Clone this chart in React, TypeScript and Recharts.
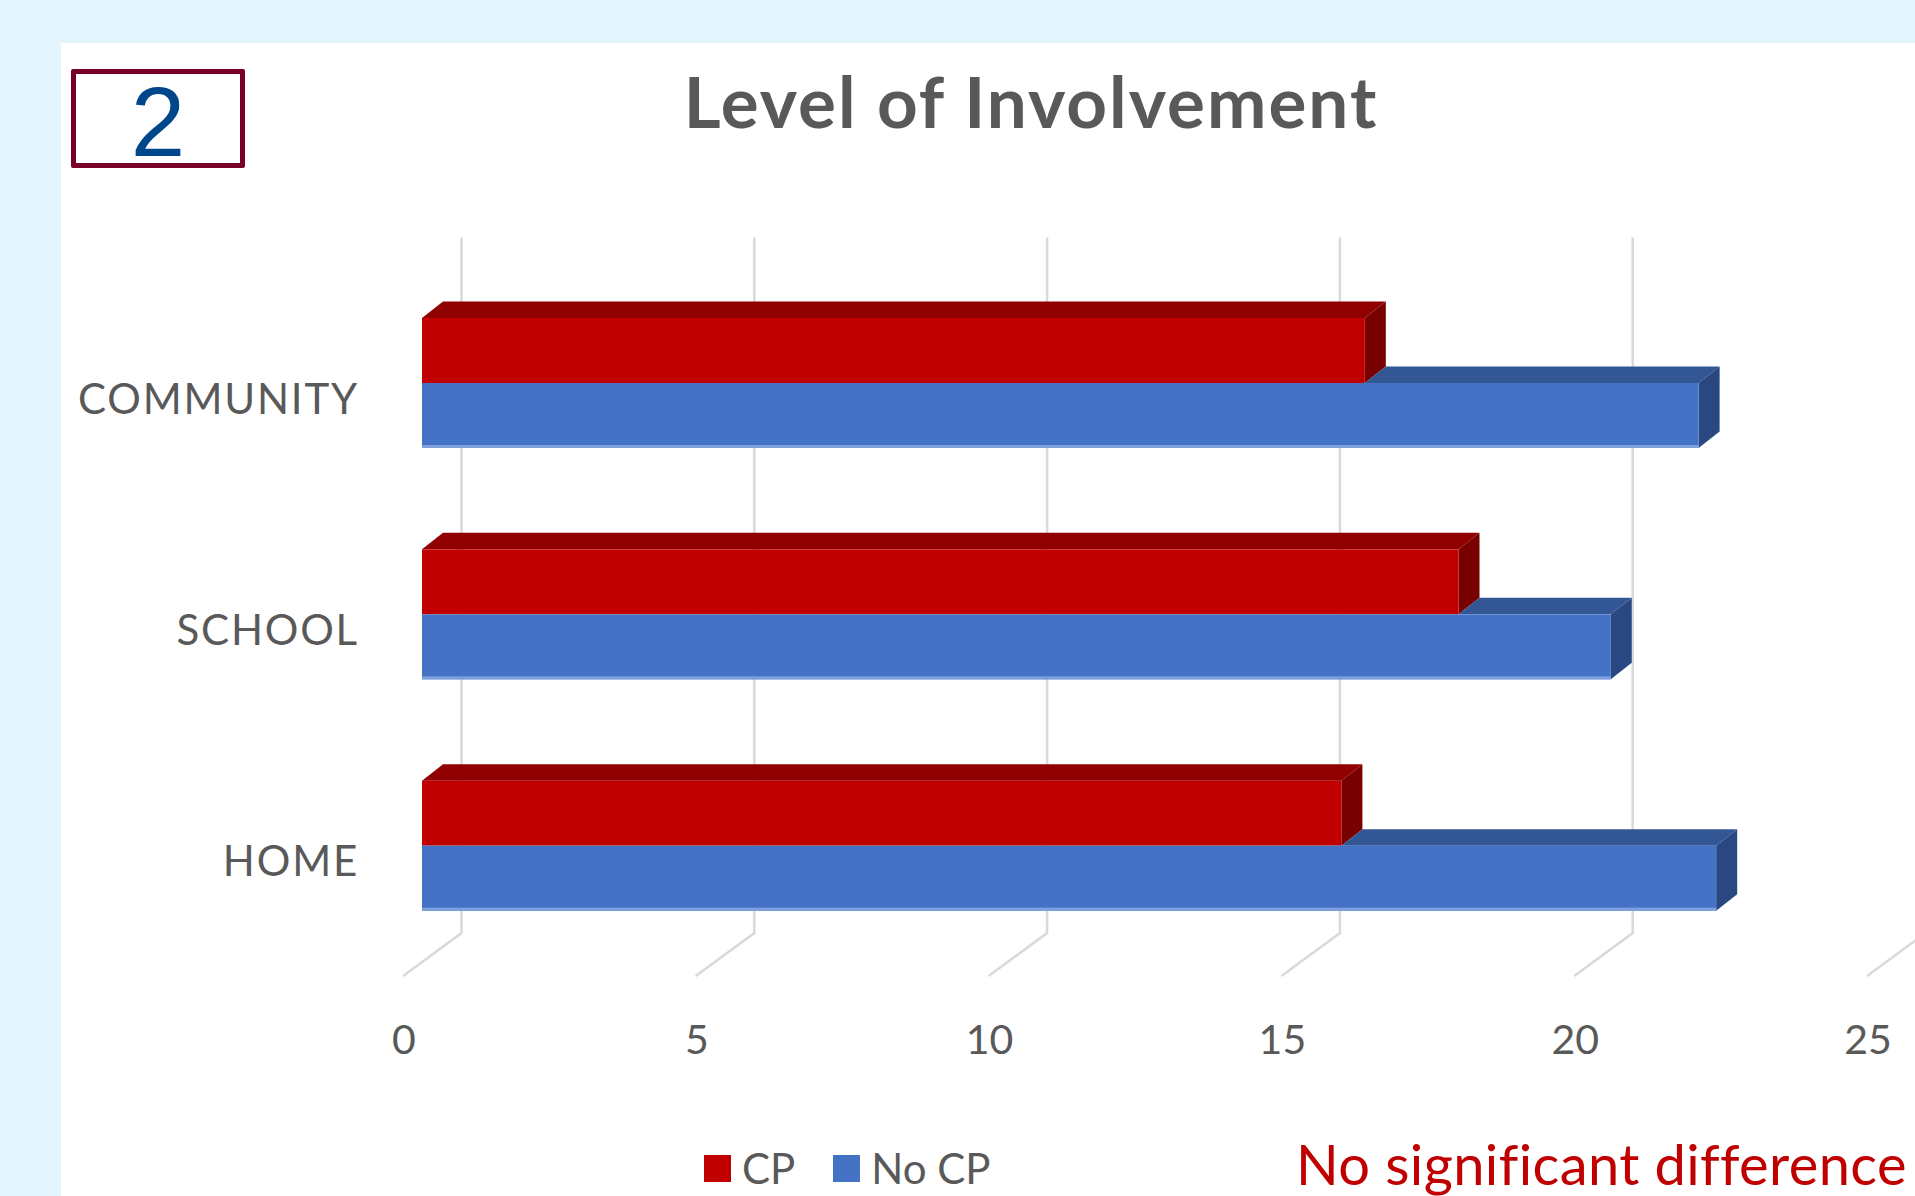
import React from 'react';
import { BarChart, Bar, XAxis, YAxis, CartesianGrid, Legend } from 'recharts';

const categories = ['COMMUNITY', 'SCHOOL', 'HOME'];
const cpValues = [16.1, 17.7, 15.7];
const noCpValues = [21.8, 20.3, 22.1];
const xTicks = [0, 5, 10, 15, 20, 25];

const data = categories.map((name, i) => ({ name, cp: cpValues[i], nocp: noCpValues[i] }));

const FONT = 'Lato, "Open Sans", sans-serif';
const GREY = '#595959';

// depth of one bar (3d look)
const DX = 21;
const DY = 16.5;

const CpShape = (props: any) => {
  const { x, y, width, height } = props;
  return (
    <g>
      <polygon points={`${x},${y} ${x + DX},${y - DY} ${x + width + DX},${y - DY} ${x + width},${y}`} fill="#900000" />
      <polygon
        points={`${x + width},${y} ${x + width + DX},${y - DY} ${x + width + DX},${y + height - DY} ${x + width},${y + height}`}
        fill="#780000"
      />
      <rect x={x} y={y} width={width} height={height} fill="#c00000" />
    </g>
  );
};

const NoCpShape = (props: any) => {
  const { x, y, width, height, payload } = props;
  // the CP bar sits on top and hides part of the top face
  const cpEnd = x + (payload.cp * width) / payload.nocp;
  return (
    <g>
      {cpEnd < x + width && (
        <polygon
          points={`${cpEnd},${y} ${cpEnd + DX},${y - DY} ${x + width + DX},${y - DY} ${x + width},${y}`}
          fill="#335694"
        />
      )}
      <polygon
        points={`${x + width},${y} ${x + width + DX},${y - DY} ${x + width + DX},${y + height - DY} ${x + width},${y + height}`}
        fill="#294882"
      />
      <rect x={x} y={y} width={width} height={height} fill="#4472c4" />
      <rect x={x} y={y + height - 3} width={width} height={3} fill="#7d9fdc" />
    </g>
  );
};

// back wall line + floor line for every tick
const gridLine = (props: any) => {
  const { x1, y1, y2 } = props;
  return (
    <path
      key={`g-${x1}`}
      d={`M${x1 + 39.5},${y1 - 29.5} L${x1 + 39.5},${y2 - 28} L${x1 - 19},${y2 + 15}`}
      stroke="#d9d9d9"
      strokeWidth={2.5}
      fill="none"
    />
  );
};

const CategoryTick = (props: any) => {
  const { x, y, payload } = props;
  return (
    <text x={x + 2} y={y + 31} textAnchor="end" fill={GREY} fontFamily={FONT} fontSize={42} letterSpacing={1.8}>
      {payload.value}
    </text>
  );
};

const ValueTick = (props: any) => {
  const { x, y, payload } = props;
  return (
    <text x={x - 18} y={y + 93} textAnchor="middle" fill={GREY} fontFamily={FONT} fontSize={41}>
      {payload.value}
    </text>
  );
};

const renderLegend = (props: any) => {
  const { payload } = props;
  return (
    <div style={{ display: 'flex', alignItems: 'center', fontFamily: FONT, fontSize: 42, lineHeight: '46px', color: GREY }}>
      {payload.map((entry: any, i: number) => (
        <div key={i} style={{ display: 'flex', alignItems: 'center', marginRight: 38 }}>
          <span style={{ display: 'inline-block', width: 27, height: 27, background: entry.color, marginRight: 11 }} />
          <span>{entry.value}</span>
        </div>
      ))}
    </div>
  );
};

export default function App() {
  return (
    <div style={{ position: 'fixed', left: 0, top: 0, width: 1915, height: 1196, overflow: 'hidden', background: '#e3f5fc' }}>
      <div style={{ position: 'absolute', left: 61, top: 43, right: 0, bottom: 0, background: '#ffffff' }} />
      <div
        style={{
          position: 'absolute',
          left: 71,
          top: 69,
          width: 174,
          height: 99,
          boxSizing: 'border-box',
          border: '5px solid #780026',
          borderRadius: 2,
        }}
      />
      <div
        style={{
          position: 'absolute',
          left: 71,
          width: 174,
          top: 66,
          textAlign: 'center',
          fontFamily: '"Liberation Sans", Arial, sans-serif',
          fontSize: 98,
          color: '#00468b',
        }}
      >
        2
      </div>
      <div
        style={{
          position: 'absolute',
          left: 631,
          width: 800,
          top: 58,
          textAlign: 'center',
          fontFamily: FONT,
          fontWeight: 700,
          fontSize: 71,
          letterSpacing: 2,
          color: GREY,
          whiteSpace: 'nowrap',
        }}
      >
        Level of Involvement
      </div>
      <div
        style={{
          position: 'absolute',
          left: 1296,
          top: 1136,
          fontFamily: FONT,
          fontSize: 56,
          lineHeight: '56px',
          letterSpacing: 0.4,
          color: '#c00000',
          whiteSpace: 'nowrap',
        }}
      >
        No significant difference
      </div>
      <div style={{ position: 'absolute', left: 0, top: 0 }}>
        <BarChart
          width={1915}
          height={1196}
          data={data}
          layout="vertical"
          margin={{ top: 267, right: 29, bottom: 135, left: 0 }}
          barSize={65}
          barGap={0}
        >
          <CartesianGrid horizontal={false} vertical={gridLine} />
          <XAxis
            type="number"
            domain={[0, 25]}
            ticks={xTicks}
            height={100}
            tickSize={0}
            tickMargin={0}
            axisLine={false}
            tickLine={false}
            tick={<ValueTick />}
            interval={0}
          />
          <YAxis
            type="category"
            dataKey="name"
            width={422}
            tickSize={0}
            tickMargin={65}
            axisLine={false}
            tickLine={false}
            tick={<CategoryTick />}
          />
          <Legend
            layout="horizontal"
            verticalAlign="middle"
            align="center"
            content={renderLegend}
            wrapperStyle={{ position: 'absolute', left: 704, top: 1145, width: 'auto', height: 'auto' }}
          />
          <Bar dataKey="cp" name="CP" fill="#c00000" shape={CpShape} isAnimationActive={false} />
          <Bar dataKey="nocp" name="No CP" fill="#4472c4" shape={NoCpShape} isAnimationActive={false} />
        </BarChart>
      </div>
    </div>
  );
}
